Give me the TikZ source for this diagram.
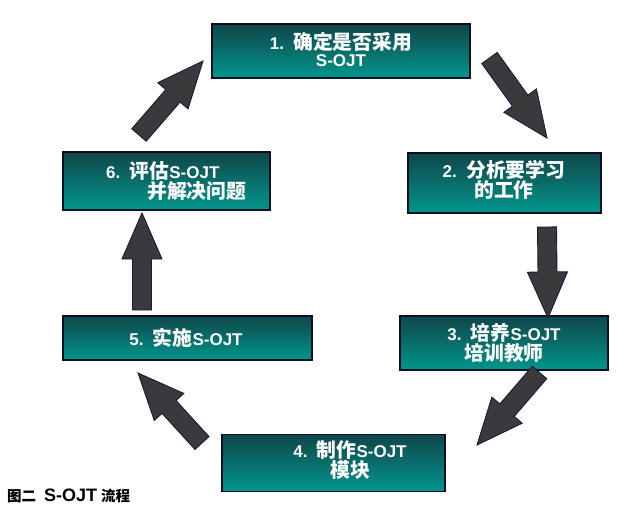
\documentclass[tikz,border=0pt]{standalone}
\usepackage{fontspec}
\setmainfont{Liberation Sans}
\newfontfamily\cjk{Noto Sans CJK SC}
\usetikzlibrary{calc}
\definecolor{boxtop}{RGB}{16,70,74}
\definecolor{boxbot}{RGB}{2,150,140}
\definecolor{boxedge}{RGB}{12,14,40}
\definecolor{arrfill}{RGB}{58,58,60}
\definecolor{arredge}{RGB}{25,25,60}
\newcommand\zh[1]{{\cjk\fontsize{19.8}{20}\selectfont #1}}
\newcommand\zhb[1]{{\cjk\bfseries\fontsize{14.5}{16}\selectfont #1}}
\newcommand\blkarrow[3]{%
  \coordinate (#1h) at ($(#3)!46pt!(#2)$);
  \draw[blkarr] ($(#2)!9.5pt!90:(#3)$) -- ($(#1h)!9.5pt!90:(#3)$) -- ($(#1h)!20pt!90:(#3)$) -- (#3)
     -- ($(#1h)!20pt!-90:(#3)$) -- ($(#1h)!9.5pt!-90:(#3)$) -- ($(#2)!9.5pt!-90:(#3)$) -- cycle;
}
\begin{document}
\begin{tikzpicture}[x=1pt,y=-1pt,
  boxst/.style={draw=boxedge, line width=1.2pt, top color=boxtop, bottom color=boxbot, inner sep=0pt},
  txt/.style={text=white, font=\fontsize{17}{20}\selectfont\bfseries, align=center, inner sep=0pt},
  blkarr/.style={fill=arrfill, draw=arredge, line width=0.9pt, line join=miter}]
\useasboundingbox[fill=white] (0,0) rectangle (627,511);

% boxes
\node[boxst, minimum width=258pt, minimum height=54pt] (b1) at (341,51) {};
\node[boxst, minimum width=193pt, minimum height=60pt] (b2) at (504.5,183) {};
\node[boxst, minimum width=208pt, minimum height=54pt] (b3) at (504,343) {};
\node[boxst, minimum width=223pt, minimum height=57pt] (b4) at (333.5,463) {};
\node[boxst, minimum width=249pt, minimum height=44pt] (b5) at (187.5,338) {};
\node[boxst, minimum width=207pt, minimum height=58pt] (b6) at (166.5,181) {};

% texts
\node[txt] (t1) at (341,49) {1.\hspace{0.55em}\zh{确定是否采用}\\[-3pt]S-OJT};
\node[txt] (t2) at (504,180) {2.\hspace{0.55em}\zh{分析要学习}\\\zh{的工作}};
\node[txt] (t3) at (504,343) {3.\hspace{0.55em}\zh{培养}S-OJT\\\zh{培训教师}};
\node[txt] (t4) at (350,460) {4.\hspace{0.55em}\zh{制作}S-OJT\\\zh{模块}};
\node[txt] (t5) at (186,338) {5.\hspace{0.55em}\zh{实施}S-OJT};
\node[txt, align=left, anchor=west] (t6) at (106,181) {6.\hspace{0.55em}\zh{评估}S-OJT\\\hspace{41pt}\zh{并解决问题}};

% arrows
\coordinate (a12t) at (489.5,58);  \coordinate (a12p) at (547,138);
\coordinate (a23t) at (547,227);   \coordinate (a23p) at (548,318);
\coordinate (a34t) at (539.5,372.5); \coordinate (a34p) at (477,445);
\coordinate (a45t) at (202,443);   \coordinate (a45p) at (138,373);
\coordinate (a56t) at (142,310);   \coordinate (a56p) at (142,213);
\coordinate (a61t) at (139,135);   \coordinate (a61p) at (203,61);
\blkarrow{x12}{a12t}{a12p}
\blkarrow{x23}{a23t}{a23p}
\blkarrow{x34}{a34t}{a34p}
\blkarrow{x45}{a45t}{a45p}
\blkarrow{x56}{a56t}{a56p}
\blkarrow{x61}{a61t}{a61p}

% caption
\node[anchor=base west, inner sep=0pt, font=\fontsize{18}{18}\selectfont\bfseries] (cap) at (7,501)
  {\zhb{图二}\hspace{8pt}S-OJT\hspace{4pt}\zhb{流程}};
\end{tikzpicture}
\end{document}
